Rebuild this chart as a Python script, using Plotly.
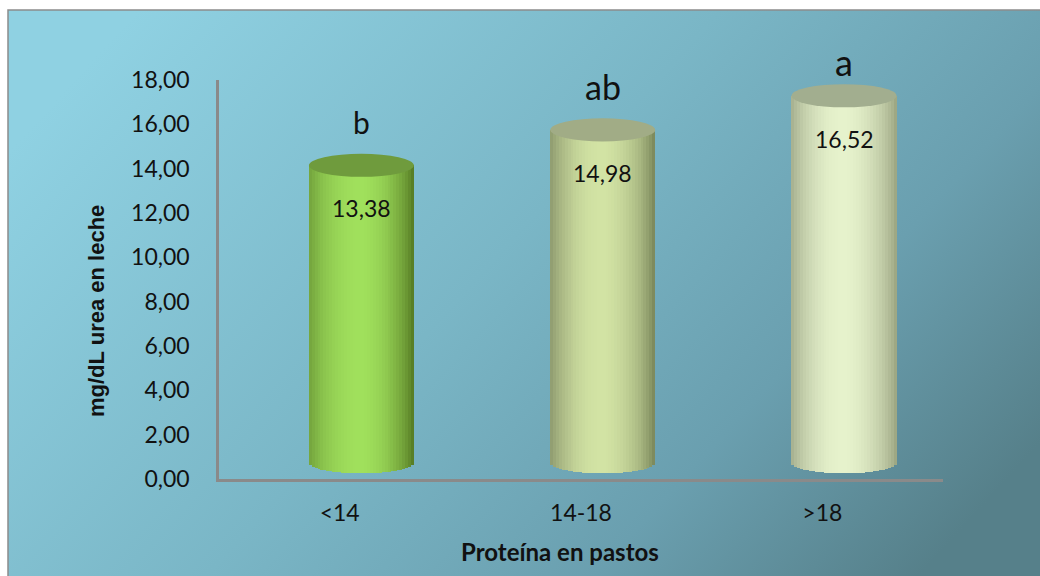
import base64
import math
import plotly.graph_objects as go

# ---------------- data ----------------
categories = ["<14", "14-18", ">18"]
values = [13.38, 14.98, 16.52]
letters = ["b", "ab", "a"]
letter_sizes = [30, 34, 36]
y_ticks = [0, 2, 4, 6, 8, 10, 12, 14, 16, 18]

# ---------------- style ----------------
W, H = 1040, 576
L, R, T, B = 219, 943, 80, 479          # plot area in pixels
X_OFF = 0.09        # 3D depth shift (category units)
DEPTH = 0.77        # 3D depth shift (value units)
BAR_W = 0.435
ELL_H = 0.52        # half-height of the cylinder ellipses (value units)
N = 36              # strips per cylinder

# (left edge, centre highlight, right edge, top)
palettes = [
    ("#6c9a38", "#a0e05c", "#587f26", "#6f9b3d"),
    ("#838f66", "#d2e3a4", "#7e8b5e", "#a1ac86"),
    ("#9ba585", "#e6f2cc", "#9ea884", "#a2ae8f"),
]


def hex2rgb(h):
    h = h.lstrip("#")
    return [int(h[i:i + 2], 16) for i in (0, 2, 4)]


def mix(a, b, f):
    a, b = hex2rgb(a), hex2rgb(b)
    return "rgb(%d,%d,%d)" % tuple(round(a[i] + (b[i] - a[i]) * f) for i in range(3))


def px(xp):
    return (xp - L) / (R - L)


def py(yp):
    return (B - yp) / (B - T)


fig = go.Figure()

xs = list(range(len(categories)))
strip_w = BAR_W / N
for k in range(N):
    u = -1 + (k + 0.5) * 2 / N            # -1 .. 1 across the cylinder
    f = max(0.0, math.cos((u + 0.04) * math.pi / 2)) ** 0.75
    cols = [mix(p[0] if u < 0 else p[2], p[1], f) for p in palettes]
    base = DEPTH - ELL_H * math.sqrt(max(0.0, 1 - u * u))
    fig.add_trace(go.Bar(
        x=[xi + X_OFF + u * BAR_W / 2 for xi in xs],
        y=[v + DEPTH - base for v in values],
        base=base,
        width=strip_w * 1.08,
        marker=dict(color=cols, line=dict(width=0)),
        hoverinfo="skip",
        showlegend=False,
    ))

# top ellipses
for xi, v, p in zip(xs, values, palettes):
    fig.add_shape(type="circle", xref="x", yref="y",
                  x0=xi + X_OFF - BAR_W / 2, x1=xi + X_OFF + BAR_W / 2,
                  y0=v + DEPTH - ELL_H, y1=v + DEPTH + ELL_H,
                  fillcolor=p[3], line=dict(width=0), layer="above")

# value labels and significance letters
for xi, v, lt, ls in zip(xs, values, letters, letter_sizes):
    fig.add_annotation(x=xi + X_OFF, y=v + DEPTH, yshift=-43,
                       text=f"{v:.2f}".replace(".", ","), showarrow=False,
                       xanchor="center", yanchor="middle",
                       font=dict(family="Lato", size=23, color="#111111"))
    fig.add_annotation(x=xi + X_OFF, y=v + DEPTH + ELL_H, yshift=32 if lt != "a" else 22,
                       text=lt, showarrow=False, xanchor="center", yanchor="middle",
                       font=dict(family="Lato", size=ls, color="#111111"))

# background gradient
svg = """<svg xmlns='http://www.w3.org/2000/svg' width='1000' height='560' viewBox='0 0 1000 560' preserveAspectRatio='none'>
<defs><linearGradient id='g' x1='0' y1='0.25' x2='1' y2='0.75'>
<stop offset='0' stop-color='#8fd1e2'/>
<stop offset='0.45' stop-color='#7ab6c6'/>
<stop offset='0.75' stop-color='#6a9faf'/>
<stop offset='1' stop-color='#56808a'/>
</linearGradient></defs>
<rect width='1000' height='560' fill='url(#g)'/></svg>"""
src = "data:image/svg+xml;base64," + base64.b64encode(svg.encode()).decode()
fig.add_layout_image(source=src, xref="paper", yref="paper",
                     x=px(8), y=py(10), sizex=px(1045) - px(8), sizey=py(10) - py(580),
                     xanchor="left", yanchor="top", sizing="stretch", layer="below")

# frame border (top and left)
fig.add_shape(type="rect", xref="paper", yref="paper",
              x0=px(8), x1=px(1060), y0=py(600), y1=py(10),
              line=dict(color="#8c8c8c", width=1.5), fillcolor="rgba(0,0,0,0)", layer="above")

# axis titles
fig.add_annotation(xref="paper", yref="paper", x=px(560), y=py(551),
                   xanchor="center", yanchor="middle",
                   text="<b>Proteína en pastos</b>", showarrow=False,
                   font=dict(family="Lato", size=24, color="#111111"))
fig.add_annotation(xref="paper", yref="paper", x=px(96), y=py(311),
                   xanchor="center", yanchor="middle",
                   text="<b>mg/dL urea en leche</b>", showarrow=False, textangle=-90,
                   font=dict(family="Liberation Sans", size=22, color="#111111"))

fig.update_layout(
    width=W, height=H,
    margin=dict(l=L, r=W - R, t=T, b=H - B, pad=0),
    paper_bgcolor="white",
    plot_bgcolor="rgba(0,0,0,0)",
    barmode="overlay",
    bargap=0,
    separators=",.",
    showlegend=False,
    xaxis=dict(range=[-0.5, 2.5], tickvals=xs, ticktext=categories,
               showgrid=False, zeroline=False, showline=True,
               linecolor="#8a8a8a", linewidth=2.5,
               ticks="", ticklabelstandoff=12,
               tickfont=dict(family="Lato", size=23, color="#111111")),
    yaxis=dict(range=[0, 18], tickvals=y_ticks, tickformat=".2f",
               showgrid=False, zeroline=False, showline=True,
               linecolor="#8a8a8a", linewidth=2.5,
               ticks="", ticklabelstandoff=22,
               tickfont=dict(family="Lato", size=23, color="#111111")),
)

fig.write_html("out.html")
